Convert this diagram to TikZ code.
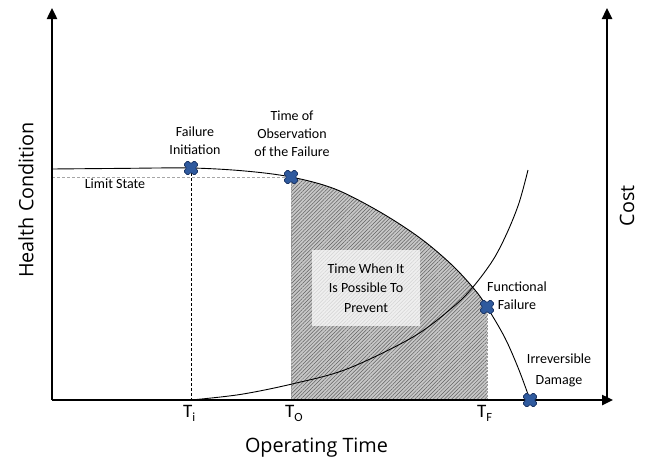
\documentclass[tikz,border=0pt]{standalone}
\usepackage{fontspec}
\setmainfont{Carlito}
\newfontfamily\axisfont{Open Sans}
\usetikzlibrary{arrows.meta,patterns.meta}

\definecolor{markfill}{HTML}{2F5A9E}
\definecolor{markedge}{HTML}{1B3566}

\tikzset{
  axisline/.style={line width=2.4pt, -{Triangle[length=11pt,width=10pt]}},
  curve/.style={line width=0.9pt},
  limitline/.style={gray!70, line width=0.8pt, dash pattern=on 3pt off 2pt},
  tline/.style={black, line width=0.7pt, dash pattern=on 3pt off 2pt},
  edgeline/.style={gray!80, line width=0.7pt, dash pattern=on 2pt off 1.5pt},
  lbl/.style={font=\fontsize{14}{18}\selectfont, align=center, inner sep=0pt},
  tlbl/.style={font=\fontsize{19}{19}\selectfont, anchor=base west, inner sep=0pt},
  axlbl/.style={font=\axisfont\fontsize{19.8}{19.8}\selectfont, inner sep=0pt},
  xmark/.pic={
    \filldraw[markfill, draw=markedge, line width=0.7pt, rotate=45, rounded corners=1.2pt]
      (-7.5,-3) -- (-3,-3) -- (-3,-7.5) -- (3,-7.5) -- (3,-3) -- (7.5,-3)
      -- (7.5,3) -- (3,3) -- (3,7.5) -- (-3,7.5) -- (-3,3) -- (-7.5,3) -- cycle;
  }
}

\newcommand{\subT}[1]{T\raisebox{-4.5pt}{\fontsize{12.5}{12.5}\selectfont #1}}

\begin{document}
\begin{tikzpicture}[x=1pt,y=-1pt]
\useasboundingbox (0,0) rectangle (648,461);

% key points
\coordinate (O) at (52,400);
\coordinate (ytop) at (52,8);
\coordinate (xend) at (613,400);
\coordinate (cbot) at (607,400);
\coordinate (ctop) at (607,8);
\coordinate (lsL) at (52,177);
\coordinate (pInit) at (191,168);
\coordinate (pObs) at (291,177);
\coordinate (pFunc) at (487,307);
\coordinate (pDmg) at (530,400);
\coordinate (tI) at (191,400);
\coordinate (tO) at (291,400);
\coordinate (tF) at (487,400);

% hatched window between observation and functional failure
\begin{scope}
  \clip (291,0) rectangle (487,400);
  \fill[black!22] (52,400) -- plot[smooth, tension=0.55] coordinates {
    (52,169) (120,168.4) (191,168) (245,171) (291,177) (335,189) (380,212)
    (420,238) (452,265) (475,290) (487,307) (505,338) (519,370) (530,400)} -- cycle;
  \fill[pattern={Lines[angle=45,distance=2.6pt,line width=0.5pt]}, pattern color=black!62]
    (52,400) -- plot[smooth, tension=0.55] coordinates {
    (52,169) (120,168.4) (191,168) (245,171) (291,177) (335,189) (380,212)
    (420,238) (452,265) (475,290) (487,307) (505,338) (519,370) (530,400)} -- cycle;
\end{scope}

% limits of the window and reference lines
\draw[edgeline] (pObs) -- (tO);
\draw[edgeline] (pFunc) -- (tF);
\draw[limitline] (lsL) -- (pObs);
\draw[tline] (pInit) -- (tI);

% shaded label box
\fill[white, fill opacity=0.72] (312,250) rectangle (420,326);
\node[lbl, font=\fontsize{14}{19.5}\selectfont] (prev) at (366,288) {Time When It\\Is Possible To\\Prevent};

% cost curve
\draw[curve] plot[smooth, tension=0.55] coordinates {
  (191,400) (240,394.5) (292,384) (347,369) (413,337) (453,307) (473,287)
  (493,260) (507,233) (519,203) (528,170)};

% health condition curve
\draw[curve] plot[smooth, tension=0.55] coordinates {
  (52,169) (120,168.4) (191,168) (245,171) (291,177) (335,189) (380,212)
  (420,238) (452,265) (475,290) (487,307) (505,338) (519,370) (530,400)};

% axes
\draw[axisline] (O) -- (ytop);
\draw[axisline] (O) -- (xend);
\draw[axisline] (cbot) -- (ctop);

% event markers
\pic at (pInit) {xmark};
\pic at (pObs) {xmark};
\pic at (pFunc) {xmark};
\pic at (pDmg) {xmark};

% labels
\node[lbl] (lInit) at (195,141) {Failure\\Initiation};
\node[lbl] (lObs) at (292,134) {Time of\\Observation\\of the Failure};
\node[lbl] (lLim) at (115,184) {Limit State};
\node[lbl] (lFunc) at (517,296) {Functional\\Failure};
\node[lbl, font=\fontsize{14}{21}\selectfont] (lDmg) at (559,370) {Irreversible\\Damage};

\node[tlbl] (nTi) at (183,417) {\subT{i}};
\node[tlbl] (nTo) at (285,417) {\subT{O}};
\node[tlbl] (nTf) at (477,417) {\subT{F}};

\node[axlbl] (xlab) at (316.5,448) {Operating Time};
\node[axlbl, rotate=90] (ylab) at (26,200) {Health Condition};
\node[axlbl, rotate=90] (clab) at (627,206) {Cost};
\end{tikzpicture}
\end{document}
